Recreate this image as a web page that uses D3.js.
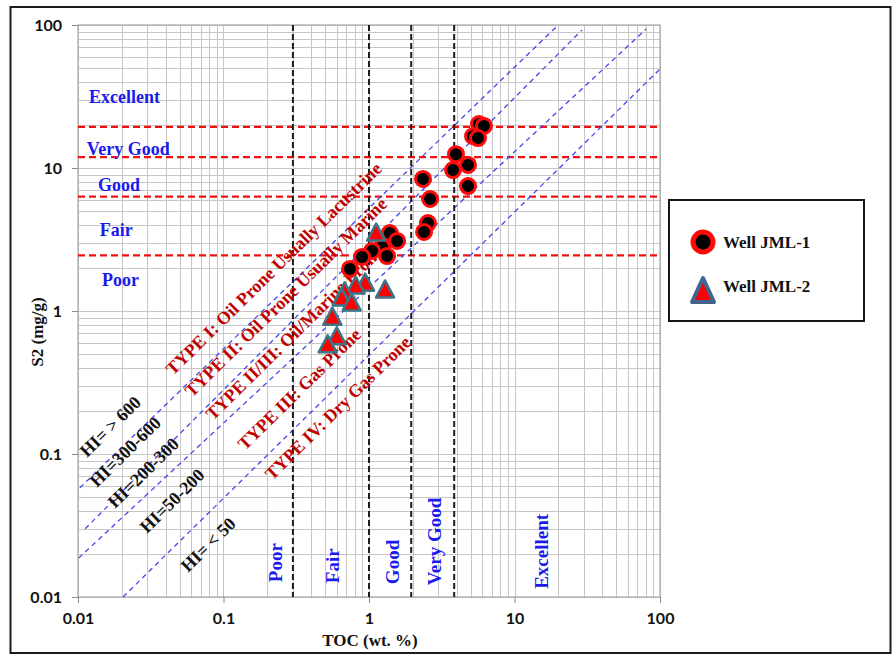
<!DOCTYPE html>
<html>
<head>
<meta charset="utf-8">
<script src="https://cdn.jsdelivr.net/npm/d3@7"></script>
<style>
  html, body { margin: 0; padding: 0; background: #fff; }
  svg { display: block; }
</style>
</head>
<body>
<svg id="chart" width="893" height="654"></svg>
<script>
// Well JML-1 samples: TOC (wt.%) and S2 (mg/g)
const jml1TOC = [5.70, 6.17, 5.19, 5.61, 3.96, 4.79, 3.78, 4.79, 2.35, 2.63, 2.54, 2.39,
                 1.39, 1.56, 1.23, 1.05, 1.33, 0.895, 0.74];
const jml1S2  = [20.3, 19.7, 16.7, 16.2, 12.5, 10.5, 9.68, 7.48, 8.38, 6.07, 4.12, 3.57,
                 3.51, 3.09, 2.80, 2.63, 2.42, 2.39, 1.97];
// Well JML-2 samples
const jml2TOC = [1.12, 0.94, 0.81, 1.29, 0.68, 0.65, 0.76, 0.56, 0.60, 0.52];
const jml2S2  = [3.45, 1.54, 1.47, 1.38, 1.34, 1.21, 1.12, 0.89, 0.65, 0.57];

// Axis decades and their labels
const decadeTicks = [0.01, 0.1, 1, 10, 100];
const decadeLabels = ["0.01", "0.1", "1", "10", "100"];

// S2 potential class limits (mg/g) and TOC class limits (wt.%)
const s2Limits = [19.4, 11.9, 6.3, 2.45];
const tocLimits = [0.3, 1, 1.95, 3.85];

// Hydrogen index reference lines, end points as [TOC, S2]
const hiLineStart = [[0.0103, 0.058], [0.0112, 0.030], [0.0101, 0.0187], [0.0204, 0.01]];
const hiLineEnd   = [[19.3, 96.8], [29.1, 92.3], [80.3, 93.7], [100, 49.2]];

// Class names with their anchor points in [TOC, S2]
const s2ClassNames = ["Excellent", "Very Good", "Good", "Fair", "Poor"];
const s2ClassAt = [[0.0119, 28.5], [0.0115, 12.3], [0.0137, 6.9], [0.0141, 3.34], [0.0146, 1.50]];
const tocClassNames = ["Poor", "Fair", "Good", "Very Good", "Excellent"];
const tocClassAt = [[0.252, 0.0127], [0.622, 0.0125], [1.61, 0.0123], [3.13, 0.0121], [17.0, 0.0114]];
const kerogenNames = ["TYPE I: Oil Prone Usually  Lacustrine", "TYPE II: Oil Prone Usually Marine",
                      "TYPE II/III:  Oil/Marine Prone", "TYPE III:  Gas Prone", "TYPE IV: Dry Gas Prone"];
const kerogenAt = [[0.045, 0.351], [0.0607, 0.246], [0.0847, 0.170], [0.1405, 0.105], [0.216, 0.0648]];
const hiNames = ["HI= > 600", "HI=300-600", "HI=200-300", "HI=50-200", "HI= < 50"];
const hiAt = [[0.01153, 0.0938], [0.01351, 0.0578], [0.01796, 0.0412], [0.0298, 0.0276], [0.057, 0.01472]];

const legendNames = ["Well JML-1", "Well JML-2"];

const svg = d3.select("#chart");
const serif = "'Liberation Serif', 'Times New Roman', serif";
const sans = "Lato, 'Liberation Sans', sans-serif";

const x = d3.scaleLog().domain([0.01, 100]).range([78, 660]);
const y = d3.scaleLog().domain([0.01, 100]).range([597, 25]);

// soft shadow used under the class limit lines
const defs = svg.append("defs");
defs.append("filter").attr("id", "haze").attr("x", "-5%").attr("y", "-200%")
  .attr("width", "110%").attr("height", "500%")
  .append("feGaussianBlur").attr("stdDeviation", 2.2);

// outer frame
svg.append("rect").attr("x", 10.5).attr("y", 7).attr("width", 880).attr("height", 646)
  .attr("fill", "none").attr("stroke", "#1a1a1a").attr("stroke-width", 2);

// log grid
const minor = [];
[0.01, 0.1, 1, 10].forEach(d => { for (let k = 1; k < 10; k++) minor.push(d * k); });
minor.push(100);

const grid = svg.append("g").attr("stroke", "#c6c6c6").attr("stroke-width", 1);
grid.selectAll("line.v").data(minor).join("line").attr("class", "v")
  .attr("x1", d => Math.round(x(d)) + 0.5).attr("x2", d => Math.round(x(d)) + 0.5)
  .attr("y1", y(100)).attr("y2", y(0.01));
grid.selectAll("line.h").data(minor).join("line").attr("class", "h")
  .attr("y1", d => Math.round(y(d)) + 0.5).attr("y2", d => Math.round(y(d)) + 0.5)
  .attr("x1", x(0.01)).attr("x2", x(100));
svg.append("rect").attr("x", x(0.01)).attr("y", y(100))
  .attr("width", x(100) - x(0.01)).attr("height", y(0.01) - y(100))
  .attr("fill", "none").attr("stroke", "#a8a8a8").attr("stroke-width", 1.2);

// axes with decade ticks
const xAxis = d3.axisBottom(x).tickValues(decadeTicks)
  .tickFormat((d, i) => decadeLabels[i]).tickSize(6).tickPadding(10);
const yAxis = d3.axisLeft(y).tickValues(decadeTicks)
  .tickFormat((d, i) => decadeLabels[i]).tickSize(6).tickPadding(10);
const gx = svg.append("g").attr("transform", `translate(0,${y(0.01)})`).call(xAxis);
const gy = svg.append("g").attr("transform", `translate(${x(0.01)},0)`).call(yAxis);
[gx, gy].forEach(g => {
  g.select(".domain").remove();
  g.selectAll(".tick line").attr("stroke", "#8a8a8a");
  g.selectAll(".tick text").attr("font-family", sans).attr("font-weight", 700)
    .attr("font-size", 16).attr("fill", "#111");
});

// axis titles
svg.append("text").attr("x", 370).attr("y", 646).attr("text-anchor", "middle")
  .attr("font-family", serif).attr("font-weight", 700).attr("font-size", 17).attr("fill", "#111")
  .text("TOC (wt. %)");
svg.append("text").attr("transform", "translate(43,332) rotate(-90)").attr("text-anchor", "middle")
  .attr("font-family", serif).attr("font-weight", 700).attr("font-size", 17).attr("fill", "#111")
  .text("S2 (mg/g)");

// S2 class limits (red dashed) with shadow
const limitG = svg.append("g");
limitG.selectAll("line.shadow").data(s2Limits).join("line").attr("class", "shadow")
  .attr("x1", x(0.01)).attr("x2", x(97))
  .attr("y1", d => y(d) + 5).attr("y2", d => y(d) + 5)
  .attr("stroke", "#999").attr("stroke-width", 5).attr("opacity", 0.45)
  .attr("filter", "url(#haze)");
limitG.selectAll("line.limit").data(s2Limits).join("line").attr("class", "limit")
  .attr("x1", x(0.01)).attr("x2", x(97))
  .attr("y1", d => y(d)).attr("y2", d => y(d))
  .attr("stroke", "#f01010").attr("stroke-width", 2.2).attr("stroke-dasharray", "7,4");

// HI reference lines (blue dashed)
svg.append("g").selectAll("line").data(hiLineStart).join("line")
  .attr("x1", d => x(d[0])).attr("y1", d => y(d[1]))
  .attr("x2", (d, i) => x(hiLineEnd[i][0])).attr("y2", (d, i) => y(hiLineEnd[i][1]))
  .attr("stroke", "#4646f0").attr("stroke-width", 1.3).attr("stroke-dasharray", "5,4");

// TOC class limits (black dashed)
svg.append("g").selectAll("line").data(tocLimits).join("line")
  .attr("x1", d => x(d)).attr("x2", d => x(d))
  .attr("y1", y(100)).attr("y2", y(0.01))
  .attr("stroke", "#1c1c1c").attr("stroke-width", 2).attr("stroke-dasharray", "6,3");

// class labels
svg.append("g").selectAll("text").data(s2ClassNames).join("text")
  .attr("x", (d, i) => x(s2ClassAt[i][0])).attr("y", (d, i) => y(s2ClassAt[i][1]))
  .attr("font-family", serif).attr("font-weight", 700).attr("font-size", 18).attr("fill", "#1a1aee")
  .text(d => d);
svg.append("g").selectAll("text").data(tocClassNames).join("text")
  .attr("transform", (d, i) => `translate(${x(tocClassAt[i][0])},${y(tocClassAt[i][1])}) rotate(-90)`)
  .attr("font-family", serif).attr("font-weight", 700).attr("font-size", 19).attr("fill", "#1a1aee")
  .text(d => d);

// slanted labels follow the 1:1 slope of the log-log grid
const slope = Math.atan2(y(10) - y(1), x(10) - x(1)) * 180 / Math.PI;
svg.append("g").selectAll("text").data(kerogenNames).join("text")
  .attr("transform", (d, i) => `translate(${x(kerogenAt[i][0])},${y(kerogenAt[i][1])}) rotate(${slope})`)
  .attr("font-family", serif).attr("font-weight", 700).attr("font-size", 18).attr("fill", "#c00000")
  .text(d => d);
svg.append("g").selectAll("text").data(hiNames).join("text")
  .attr("transform", (d, i) => `translate(${x(hiAt[i][0])},${y(hiAt[i][1])}) rotate(${slope})`)
  .attr("font-family", serif).attr("font-weight", 700).attr("font-size", 18).attr("fill", "#111")
  .text(d => d);

// sample markers
const tri = (w, h) => `M0,${-h * 0.62}L${w / 2},${h * 0.38}L${-w / 2},${h * 0.38}Z`;
svg.append("g").selectAll("circle").data(jml1TOC).join("circle")
  .attr("cx", d => x(d)).attr("cy", (d, i) => y(jml1S2[i])).attr("r", 7.5)
  .attr("fill", "#000").attr("stroke", "#ff0a0a").attr("stroke-width", 3);
svg.append("g").selectAll("path").data(jml2TOC).join("path")
  .attr("transform", (d, i) => `translate(${x(d)},${y(jml2S2[i])})`)
  .attr("d", tri(18, 17))
  .attr("fill", "#ff0000").attr("stroke", "#3d7488").attr("stroke-width", 2.5)
  .attr("stroke-linejoin", "round");

// legend
const lg = svg.append("g");
lg.append("rect").attr("x", 669).attr("y", 200).attr("width", 195).attr("height", 121)
  .attr("fill", "#fff").attr("stroke", "#151515").attr("stroke-width", 2);
lg.append("circle").attr("cx", 703).attr("cy", 242).attr("r", 10)
  .attr("fill", "#000").attr("stroke", "#ff0a0a").attr("stroke-width", 5);
lg.append("path").attr("transform", "translate(703,293)").attr("d", tri(22, 24))
  .attr("fill", "#ff0000").attr("stroke", "#41658f").attr("stroke-width", 4)
  .attr("stroke-linejoin", "round");
lg.selectAll("text").data(legendNames).join("text")
  .attr("x", 723).attr("y", (d, i) => 248 + i * 44)
  .attr("font-family", serif).attr("font-weight", 700).attr("font-size", 17).attr("fill", "#111")
  .text(d => d);
</script>
</body>
</html>
